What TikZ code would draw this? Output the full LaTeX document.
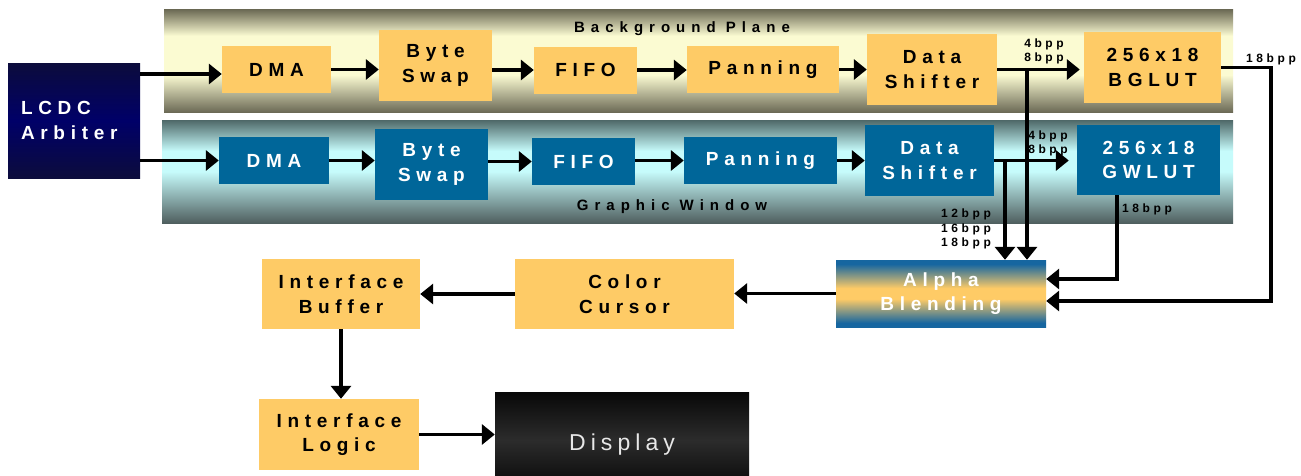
\documentclass[tikz,border=0pt]{standalone}
\usepackage{fontspec}
\setmainfont{Liberation Sans}
\newfontfamily\spaced[LetterSpace=30]{Liberation Sans}
\newfontfamily\widefont[LetterSpace=40]{Liberation Sans}
\newfontfamily\dispfont[LetterSpace=22]{Liberation Sans}
\usetikzlibrary{arrows.meta}

\definecolor{boxyellow}{HTML}{FECB66}
\definecolor{boxblue}{HTML}{006699}
\definecolor{bgdarktop}{HTML}{696752}
\definecolor{bglight}{HTML}{FBFBD2}
\definecolor{bgdarkbot}{HTML}{6C6A56}
\definecolor{gwdarktop}{HTML}{4E6868}
\definecolor{gwlight}{HTML}{C6FBFB}
\definecolor{gwdarkbot}{HTML}{4F5F5F}
\definecolor{alphablue}{HTML}{1666A0}
\definecolor{navyedge}{HTML}{0C0C3C}
\definecolor{navymid}{HTML}{000068}
\definecolor{disptop}{HTML}{080808}
\definecolor{dispmid}{HTML}{2C2C2C}
\definecolor{dispbot}{HTML}{121212}

% vertical shadings: the visible part runs from 25bp (bottom) to 75bp (top)
\pgfdeclareverticalshading{bgshade}{100bp}{color(0bp)=(bgdarkbot); color(25bp)=(bgdarkbot);
  color(43bp)=(bglight); color(62bp)=(bglight); color(75bp)=(bgdarktop); color(100bp)=(bgdarktop)}
\pgfdeclareverticalshading{gwshade}{100bp}{color(0bp)=(gwdarkbot); color(25bp)=(gwdarkbot);
  color(50bp)=(gwlight); color(60bp)=(gwlight); color(75bp)=(gwdarktop); color(100bp)=(gwdarktop)}
\pgfdeclareverticalshading{alphashade}{100bp}{color(0bp)=(alphablue); color(28bp)=(alphablue);
  color(46bp)=(boxyellow); color(54bp)=(boxyellow); color(72bp)=(alphablue); color(100bp)=(alphablue)}
\pgfdeclareverticalshading{arbshade}{100bp}{color(0bp)=(navyedge); color(25bp)=(navyedge);
  color(50bp)=(navymid); color(75bp)=(navyedge); color(100bp)=(navyedge)}
\pgfdeclareverticalshading{dispshade}{100bp}{color(0bp)=(dispbot); color(25bp)=(dispbot);
  color(46bp)=(dispmid); color(75bp)=(disptop); color(100bp)=(disptop)}

\tikzset{
  band/.style={inner sep=0pt, draw=none},
  blockfont/.style={font=\spaced\bfseries\fontsize{19}{24.5}\selectfont},
  ybox/.style={blockfont, fill=boxyellow, inner sep=0pt, align=center, text=black},
  bbox/.style={blockfont, fill=boxblue, inner sep=0pt, align=center, text=white},
  title/.style={font=\widefont\bfseries\fontsize{15}{18}\selectfont, inner sep=0pt, text=black},
  bpp/.style={font=\spaced\bfseries\fontsize{12}{14.5}\selectfont, inner sep=0pt, align=center, text=black},
  arr/.style={line width=3.6pt, -{Triangle[length=13pt,width=20pt]}},
}

\begin{document}
\begin{tikzpicture}[x=1pt,y=-1pt]
\useasboundingbox (0,0) rectangle (1301,475);
\fill[white] (0,0) rectangle (1301,475);

% the two pipeline bands
\node[band, shading=bgshade, minimum width=1069pt, minimum height=103pt] (bgband) at (698.5,60.5) {};
\node[band, shading=gwshade, minimum width=1071pt, minimum height=103pt] (gwband) at (697.5,171.5) {};
\node[title] (bgtitle) at (682,29) {Background Plane};
\node[title] (gwtitle) at (672,207) {Graphic Window};

% arbiter
\node[blockfont, shading=arbshade, inner xsep=13pt, inner ysep=0pt, text width=106pt,
      text=white, align=left, minimum height=115pt] (arb) at (74,120.5) {LCDC\\Arbiter};

% background plane pipeline
\node[ybox, minimum width=109pt, minimum height=47pt] (bdma) at (276.5,69.5) {DMA};
\node[ybox, minimum width=113pt, minimum height=71pt] (bswap) at (435.5,65.5) {Byte\\Swap};
\node[ybox, minimum width=103pt, minimum height=47pt] (bfifo) at (585.5,70) {FIFO};
\node[ybox, minimum width=152pt, minimum height=47pt] (bpan) at (763,69.5) {Panning};
\node[ybox, minimum width=130pt, minimum height=71pt] (bshift) at (932,69.5) {Data\\Shifter};
\node[ybox, minimum width=137pt, minimum height=71pt] (bglut) at (1152.5,67.5) {256x18\\BGLUT};

% graphic window pipeline
\node[bbox, minimum width=110pt, minimum height=47pt] (gdma) at (274,160.5) {DMA};
\node[bbox, minimum width=113pt, minimum height=71pt] (gswap) at (431.5,164.5) {Byte\\Swap};
\node[bbox, minimum width=103pt, minimum height=47pt] (gfifo) at (583.5,161.5) {FIFO};
\node[bbox, minimum width=153pt, minimum height=47pt] (gpan) at (760.5,160.5) {Panning};
\node[bbox, minimum width=129pt, minimum height=71pt] (gshift) at (929.5,160.5) {Data\\Shifter};
\node[bbox, minimum width=143pt, minimum height=70pt] (glut) at (1148.5,160) {256x18\\GWLUT};

% output stage
\node[blockfont, shading=alphashade, inner sep=0pt, text=white, align=center,
      minimum width=210pt, minimum height=67pt] (alpha) at (941,293.5) {Alpha\\Blending};
\node[ybox, minimum width=219pt, minimum height=70pt] (ccur) at (624.5,294) {Color\\Cursor};
\node[ybox, minimum width=158pt, minimum height=70pt] (ibuf) at (341,294) {Interface\\Buffer};
\node[ybox, minimum width=160pt, minimum height=71pt] (ilog) at (339,434.5) {Interface\\Logic};
\node[shading=dispshade, inner sep=0pt, text=white!91!black, text height=33.5pt, text depth=0pt,
      font=\dispfont\fontsize{23}{26}\selectfont,
      minimum width=254pt, minimum height=83pt] (disp) at (622,433.5) {Display};

% helper points for the vertical runs
\coordinate (dropG) at (1005,0);
\coordinate (dropB) at (1027,0);
\coordinate (gout) at (1117,0);
\coordinate (rt) at (1271,200);
\coordinate (bdmaIn) at ([yshift=-4.5pt]bdma.west);

% arbiter to both DMAs
\draw[arr] (arb.east |- bdmaIn) -- (bdmaIn);
\draw[arr] (arb.east |- gdma.west) -- (gdma.west);

% background plane chain
\draw[arr] (bdma.east) -- (bdma.east -| bswap.west);
\draw[arr] (bswap.east |- bfifo.west) -- (bfifo.west);
\draw[arr] (bfifo.east) -- (bfifo.east -| bpan.west);
\draw[arr] (bpan.east) -- (bpan.east -| bshift.west);
\draw[arr, shorten >=4pt] (bshift.east) -- (bshift.east -| bglut.west);

% graphic window chain
\draw[arr] (gdma.east) -- (gdma.east -| gswap.west);
\draw[arr] (gswap.east |- gfifo.west) -- (gfifo.west);
\draw[arr] (gfifo.east |- gpan.west) -- (gpan.west);
\draw[arr] (gpan.east) -- (gpan.east -| gshift.west);
\draw[arr, shorten >=8pt] (gshift.east) -- (gshift.east -| glut.west);

% direct paths into alpha blending
\draw[arr] (gshift.east -| dropG) -- (dropG |- alpha.north);
\draw[arr] (bshift.east -| dropB) -- (dropB |- alpha.north);

% LUT outputs into alpha blending
\draw[arr] (gout |- glut.south) |- ([yshift=14.5pt]alpha.east);
\draw[arr] (bglut.east) -| (rt) |- ([yshift=-7.5pt]alpha.east);

% output chain
\draw[arr] (alpha.west) -- (alpha.west -| ccur.east);
\draw[arr] (ccur.west) -- (ccur.west -| ibuf.east);
\draw[arr] (ibuf.south) -- (ibuf.south |- ilog.north);
\draw[arr] (ilog.east) -- (ilog.east -| disp.west);

% bit-depth labels
\node[bpp] (lbB) at (1044,51.5) {4bpp\\8bpp};
\node[bpp] (lbG) at (1048,143.5) {4bpp\\8bpp};
\node[bpp] (lbD) at (966,229) {12bpp\\16bpp\\18bpp};
\node[bpp] (lbGo) at (1147,209) {18bpp};
\node[bpp] (lbBo) at (1271,59) {18bpp};
\end{tikzpicture}
\end{document}
